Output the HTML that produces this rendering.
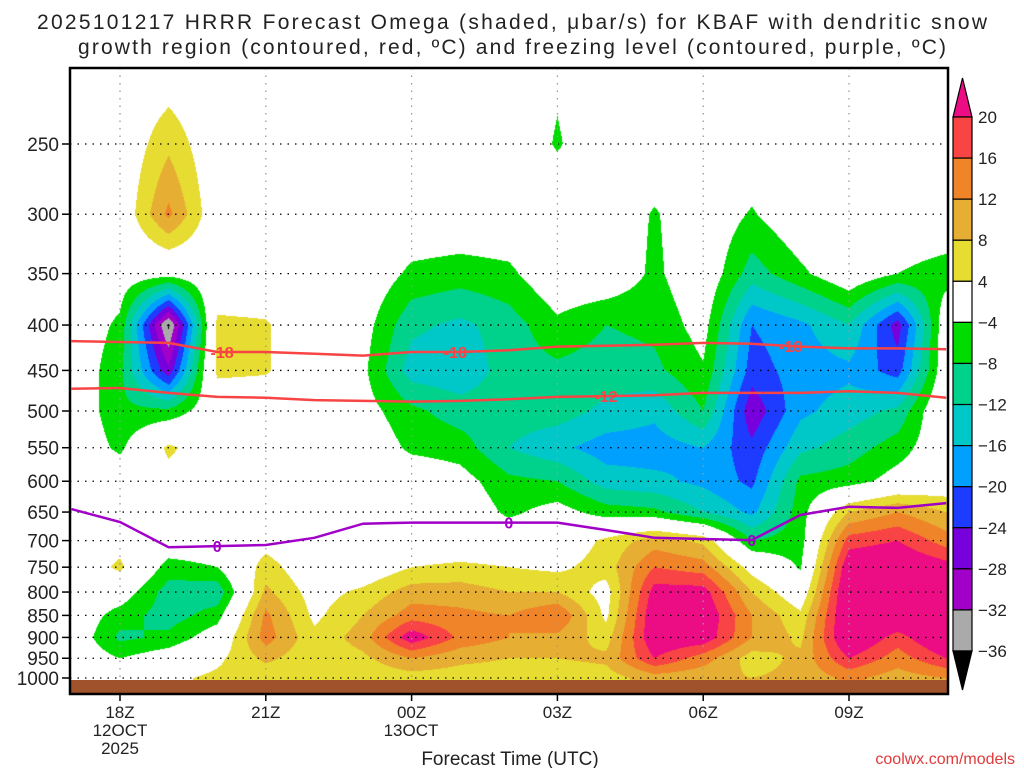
<!DOCTYPE html>
<html><head><meta charset="utf-8">
<style>
body{margin:0;background:#fff;width:1024px;height:768px;overflow:hidden;position:relative;font-family:"Liberation Sans",sans-serif}
#field{position:absolute;left:70px;top:68px}
#ov{position:absolute;left:0;top:0}
</style></head><body>
<canvas id="field" width="878" height="612"></canvas>
<svg id="ov" width="1024" height="768"></svg>
<script>
// ---- data ----
const hours = [17,18,19,20,21,22,23,24,25,26,27,28,29,30,31,32,33,34,35];
const levels = [200,250,300,350,400,450,500,550,600,650,700,750,800,850,900,950,1000];
const yTickLevels = [250,300,350,400,450,500,550,600,650,700,750,800,850,900,950,1000];
const omega17Z = [0,0,0,0,0,0,0,0,0,0,0,0,0,0,0,0,1];
const omega18Z = [0,0,0,-1,-5,-7,-7,-5,0,0,2,5,-1,-6,-9,-4,2];
const omega19Z = [0,7,13,-2,-37,-27,-7,5,2,0,0,-6,-10,-10,-7,-1,3];
const omega20Z = [0,0,0,0,5,5,0,0,0,0,0,-4,-11,-6,-1,3,5];
const omega21Z = [0,0,0,0,4.5,4.5,0,0,0,0,2,6,9,13,14,9,5];
const omega22Z = [0,0,0,0,0,0,0,0,0,0,0,0,2,3,5,5,8];
const omega23Z = [0,0,0,0,-2,-3,-2,0,0,0,0,0,5,8,10,7,5];
const omega00Z = [0,0,0,-5,-11,-14,-7,-5,0,0,0,4,10,14,23,12,6];
const omega01Z = [0,0,0,-6,-13,-15,-10,-6,-2,0,0,5,10,13,15,9,6];
const omega02Z = [0,0,0,-5,-10,-10,-10,-12,-7,-5,0,4,8,12,12,8,6];
const omega03Z = [-3,-4.5,0,0,-5,-9,-10,-15,-8,-2,0,3,8,16,11,8,5];
const omega04Z = [0,0,0,0,-8,-10,-13,-18,-14,-6,5,6,2,3,6,9,6];
const omega05Z = [0,0,-4.5,-5,-7,-9,-15,-18,-15,-7,10,16,22,24,24,20,10];
const omega06Z = [0,0,0,0,-2,-4.5,-8,-16,-17,-12,7,14,22,24,23,14,9];
const omega07Z = [0,0,-4.5,-10,-20,-22,-27,-23,-21,-17,-8,2,8,12,12,6,8];
const omega08Z = [0,0,0,-5,-17,-18,-17,-13,-7,-6,-6,-4.5,0,5,7,9,9];
const omega09Z = [0,0,0,0,-12,-17,-14,-10,-6,8,18,24,26,26,26,20,13];
const omega10Z = [0,0,0,-4,-26,-22,-11,-6,-2,12,20,25,26,26,18,14,10];
const omega11Z = [0,0,0,-6,0,0,2,0,0,8,14,22,24,25,26,20,12];
const omegaColumns = [omega17Z,omega18Z,omega19Z,omega20Z,omega21Z,omega22Z,omega23Z,omega00Z,omega01Z,omega02Z,omega03Z,omega04Z,omega05Z,omega06Z,omega07Z,omega08Z,omega09Z,omega10Z,omega11Z];
// contour lines (pressure, hPa, per hour)
const tempMinus18 = [417,418,419,429,429,431,433,429,429,427,423,422,421,419,420,423,425,425,426];
const tempMinus12 = [472,471,477,482,483,486,487,488,487,485,482,481,480,477,477,477,475,477,483];
const freezingLevel = [645,667,712,710,708,695,670,668,668,668,668,681,695,697,699,655,641,643,635];
const xTickHours = [18,21,24,27,30,33];
const xTickLabels = ["18Z","21Z","00Z","03Z","06Z","09Z"];
const cbLevels = [20,16,12,8,4,-4,-8,-12,-16,-20,-24,-28,-32,-36];
const cbColors = ["#f84444","#f08428","#e6ae32","#e6dc32","#ffffff","#00dc00","#00d28c","#00c8c8","#00a0ff","#1e3cff","#7800dc","#a000c8","#aaaaaa"];

// ---- axes ----
const L=70,R=948,T=68,B=694,GROUND=680;
const xOf=h=>120+(h-18)*48.6;
const yOf=p=>144+Math.log(p/250)*385.2;
function colorOf(v){
  if(v>=20) return [236,12,132];
  if(v<-36) return [0,0,0];
  for(let i=0;i<cbLevels.length-1;i++){
    if(v<cbLevels[i] && v>=cbLevels[i+1]){const c=cbColors[i];return [parseInt(c.substr(1,2),16),parseInt(c.substr(3,2),16),parseInt(c.substr(5,2),16)];}
  }
  return [255,255,255];
}
// ---- field ----
const cv=document.getElementById('field');const ctx=cv.getContext('2d');
const W=878,H=612;const img=ctx.createImageData(W,H);
const ly=levels.map(yOf);
for(let py=0;py<H;py++){
  const Y=T+py+0.5;let j=0;
  while(j<ly.length-2 && Y>ly[j+1]) j++;
  let fy=(Y-ly[j])/(ly[j+1]-ly[j]);fy=Math.max(0,Math.min(1,fy));
  for(let px=0;px<W;px++){
    let h=18+(L+px+0.5-120)/48.6;h=Math.max(17,Math.min(35,h));
    let i=Math.min(hours.length-2,Math.floor(h-17));const fx=h-17-i;
    const a=omegaColumns[i][j],b=omegaColumns[i+1][j],c=omegaColumns[i][j+1],d=omegaColumns[i+1][j+1];
    const v=(a*(1-fx)+b*fx)*(1-fy)+(c*(1-fx)+d*fx)*fy;
    const col=colorOf(v);const k=(py*W+px)*4;
    img.data[k]=col[0];img.data[k+1]=col[1];img.data[k+2]=col[2];img.data[k+3]=255;
  }
}
ctx.putImageData(img,0,0);

// ---- svg overlay ----
const NS="http://www.w3.org/2000/svg";const svg=document.getElementById('ov');
function mk(tag,attrs,parent){const e=document.createElementNS(NS,tag);for(const k in attrs)e.setAttribute(k,attrs[k]);(parent||svg).appendChild(e);return e;}
function txt(x,y,s,size,anchor,fill,weight){const t=mk('text',{x:x,y:y,'font-size':size,'text-anchor':anchor||'start',fill:fill||'#000','font-family':'"Liberation Sans",sans-serif','font-weight':weight||'normal'});t.textContent=s;return t;}

// ground
const g=mk('rect',{x:L,y:GROUND,width:R-L,height:B-GROUND,fill:'#a0522d'});



// grid
yTickLevels.forEach(p=>{
  const y=yOf(p);
  const ln=mk('line',{x1:L,x2:R,y1:y,y2:y,stroke:'#000','stroke-width':1.3,'stroke-dasharray':'1.5,6'});
  
  
  mk('line',{x1:62,x2:L,y1:y,y2:y,stroke:'#000','stroke-width':1.5});
  const t=txt(59,y+7,String(p),19,'end','#222');
  
  
});
xTickHours.forEach((h,i)=>{
  const x=xOf(h);
  const ln=mk('line',{x1:x,x2:x,y1:T,y2:GROUND,stroke:'#999','stroke-width':1.3,'stroke-dasharray':'1.5,6'});
  
  
  mk('line',{x1:x,x2:x,y1:B,y2:B+7,stroke:'#000','stroke-width':1.5});
  const t=txt(x,718,xTickLabels[i],17,'middle','#222');
  
  
});
txt(120,736,"12OCT",17,'middle','#222');
txt(120,754,"2025",17,'middle','#222');
txt(411,736,"13OCT",17,'middle','#222');

// contour lines
function drawLine(arr,color,name){
  const d=arr.map((p,i)=>(i?'L':'M')+xOf(hours[i]).toFixed(1)+','+yOf(p).toFixed(1)).join(' ');
  const pth=mk('path',{d:d,fill:'none',stroke:color,'stroke-width':2.5});
  
  
}
drawLine(tempMinus18,'#f84444','contour-minus18c');
drawLine(tempMinus12,'#f84444','contour-minus12c');
drawLine(freezingLevel,'#a000c8','freezing-level-line');
function lineLabel(arr,h,s,color,name){
  const i=Math.floor(h-17),f=h-17-i;
  const p=arr[i]*(1-f)+arr[i+1]*f;
  const t=txt(xOf(h),yOf(p)+6,s,16,'middle',color,'bold');
  
  
}
lineLabel(tempMinus18,20.1,'-18','#f84444','label-minus18-a');
lineLabel(tempMinus18,24.9,'-18','#f84444','label-minus18-b');
lineLabel(tempMinus18,31.8,'-18','#f84444','label-minus18-c');
lineLabel(tempMinus12,28.0,'-12','#f84444','label-minus12');
lineLabel(freezingLevel,20.0,'0','#a000c8','label-freezing-a');
lineLabel(freezingLevel,26.0,'0','#a000c8','label-freezing-b');
lineLabel(freezingLevel,31.0,'0','#a000c8','label-freezing-c');

// frame
const fr=mk('rect',{x:L,y:T,width:R-L,height:B-T,fill:'none',stroke:'#000','stroke-width':2.5});



// colorbar
const cbX=953,cbW=19,cbTop=117,seg=(651-117)/13;
const cbG=mk('g',{});


mk('polygon',{points:`${cbX},${cbTop} ${cbX+cbW},${cbTop} ${cbX+cbW/2},78`,fill:'#ec0c84',stroke:'#000','stroke-width':1.2},cbG);
cbColors.forEach((c,i)=>{
  const r=mk('rect',{x:cbX,y:cbTop+i*seg,width:cbW,height:seg,fill:c,stroke:'#000','stroke-width':1.2},cbG);
  
  
});
const yEnd=cbTop+cbColors.length*seg;
mk('polygon',{points:`${cbX},${yEnd} ${cbX+cbW},${yEnd} ${cbX+cbW/2},690`,fill:'#000',stroke:'#000','stroke-width':1.2},cbG);
cbLevels.forEach((v,i)=>{
  const t=txt(978,cbTop+i*seg+6,(v<0?'\u2212':'')+Math.abs(v),17,'start','#222');
  
  
});

// titles
let t1=txt(512,29,"2025101217 HRRR Forecast Omega (shaded, \u03BCbar/s) for KBAF with dendritic snow",21,'middle','#222');
t1.setAttribute('textLength','950');


let t2=txt(512,54,"growth region (contoured, red, \u00BAC) and freezing level (contoured, purple, \u00BAC)",21,'middle','#222');
t2.setAttribute('textLength','868');


let xt=txt(510,765,"Forecast Time (UTC)",19,'middle','#222');


let cr=txt(1015,764,"coolwx.com/models",16,'end','#e03a3a');


</script>
</body></html>
